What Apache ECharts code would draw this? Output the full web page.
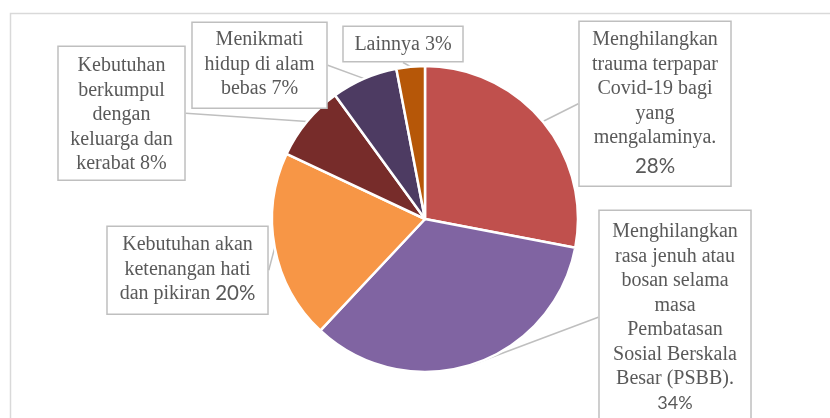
<!DOCTYPE html>
<html>
<head>
<meta charset="utf-8">
<script src="https://cdn.jsdelivr.net/npm/echarts@6/dist/echarts.min.js"></script>
<style>
  html, body { margin: 0; padding: 0; background: #fff; }
  #main { width: 830px; height: 418px; }
</style>
</head>
<body>
<div id="main"></div>
<script>
  // data, clockwise from 12 o'clock
  var categories = [
    'Menghilangkan\ntrauma terpapar\nCovid-19 bagi\nyang\nmengalaminya.',
    'Menghilangkan\nrasa jenuh atau\nbosan selama\nmasa\nPembatasan\nSosial Berskala\nBesar (PSBB).',
    'Kebutuhan akan\nketenangan hati\ndan pikiran',
    'Kebutuhan\nberkumpul\ndengan\nkeluarga dan\nkerabat',
    'Menikmati\nhidup di alam\nbebas',
    'Lainnya'
  ];
  var values = [28, 34, 20, 8, 7, 3];
  var colors = ['#C0504D', '#8064A2', '#F79646', '#772C2A', '#4D3B62', '#B65708'];

  // callout boxes: left, top, width, padding top, padding bottom
  var boxes = [
    [579, 22, 152, 5.5, 3.5],
    [599, 211, 152, 8.5, 8],
    [107, 227, 161, 5.5, 7.5],
    [58, 47, 127, 6.5, 3.5],
    [192, 23, 135, 4.7, 6.3],
    [343, 27, 120, 5.7, 3.8]
  ];
  // how the percentage is written in each box
  var pctStyle = ['p', 'q', 'pi', 't', 't', 't'];

  var myChart = echarts.init(document.getElementById('main'));

  var pieData = [];
  categories.forEach(function (name, i) {
    pieData.push({
      name: name,
      value: values[i],
      itemStyle: { color: colors[i] },
      label: {
        width: boxes[i][2] - 9.5,
        padding: [boxes[i][3], 4, boxes[i][4], 4]
      }
    });
  });

  var option = {
    animation: false,
    backgroundColor: '#fff',
    graphic: [{
      type: 'rect',
      left: 8,
      top: 11,
      shape: { width: 840, height: 430 },
      style: { fill: 'none', stroke: '#D9D9D9', lineWidth: 1.5 },
      silent: true
    }],
    series: [{
      type: 'pie',
      center: [425, 219],
      radius: 153,
      startAngle: 90,
      clockwise: true,
      avoidLabelOverlap: false,
      data: pieData,
      itemStyle: { borderColor: '#fff', borderWidth: 2.5 },
      label: {
        show: true,
        position: 'outside',
        overflow: 'none',
        color: '#595959',
        backgroundColor: '#fff',
        borderColor: '#BFBFBF',
        borderWidth: 1.5,
        align: 'center',
        formatter: function (p) {
          var s = pctStyle[p.dataIndex];
          var pct = p.value + '%';
          if (s === 'p' || s === 'q') {
            return '{t|' + p.name + '}\n{' + s + '|' + pct + '}';
          }
          return '{t|' + p.name + ' }{' + s + '|' + pct + '}';
        },
        rich: {
          t: { fontFamily: 'Liberation Serif', fontSize: 20, lineHeight: 24.5, color: '#595959' },
          p: { fontFamily: 'Lato', fontSize: 20.5, lineHeight: 32, color: '#595959' },
          q: { fontFamily: 'Lato', fontSize: 18, lineHeight: 24.5, color: '#595959' },
          pi: { fontFamily: 'Lato', fontSize: 20.5, lineHeight: 24.5, color: '#595959' }
        }
      },
      labelLine: {
        show: true,
        length: 15,
        length2: 0,
        lineStyle: { color: '#BFBFBF', width: 1.5 }
      },
      labelLayout: function (params) {
        var b = boxes[params.dataIndex];
        return { x: b[0] + b[2] / 2, y: b[1], align: 'center', verticalAlign: 'top' };
      },
      emphasis: { disabled: true }
    }]
  };

  myChart.setOption(option, true);
</script>
</body>
</html>
